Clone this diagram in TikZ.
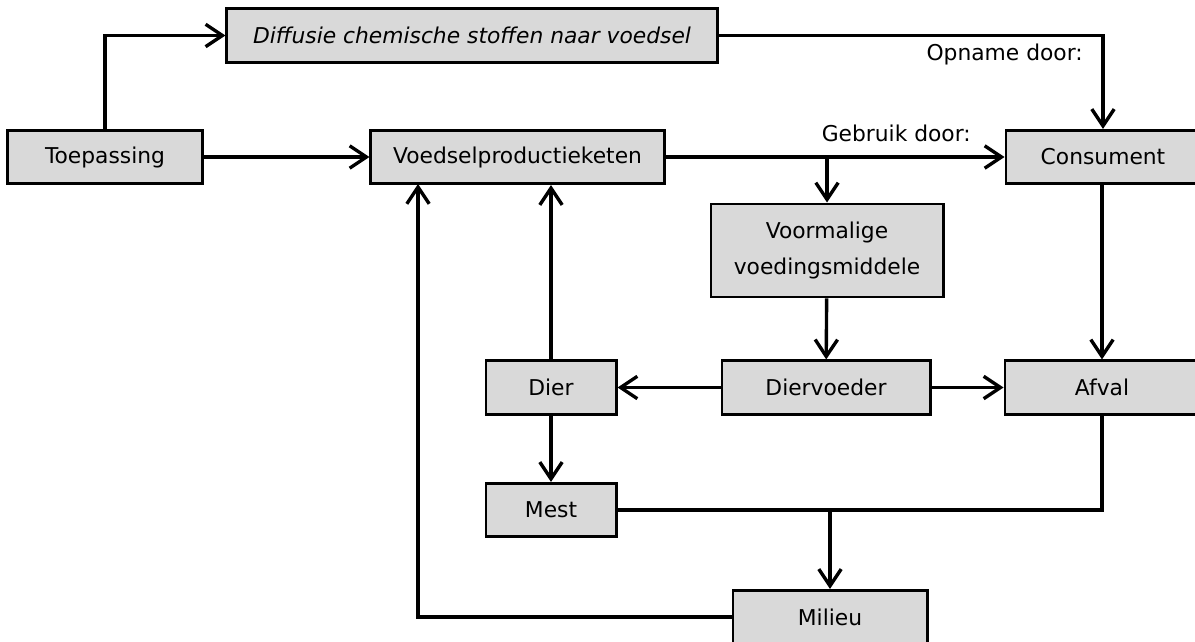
\documentclass[tikz,border=0pt]{standalone}
\usepackage{fontspec}
\setmainfont{DejaVu Sans}
\usetikzlibrary{arrows.meta, positioning, calc}

\definecolor{boxgray}{RGB}{217,217,217}

\begin{document}
\begin{tikzpicture}[
    x=0.025cm, y=-0.025cm,
    font=\fontsize{15.5pt}{18pt}\selectfont,
    box/.style={rectangle, draw, line width=2.1pt, fill=boxgray, minimum height=1.33cm, inner sep=2pt},
    arrow/.style={line width=2.4pt, -{Straight Barb[length=4.2mm, width=5.6mm, line width=2.4pt]}},
    line/.style={line width=2.4pt},
    lbl/.style={anchor=east, inner sep=0pt}
]
\clip (0,0) rectangle (1195,642);
\useasboundingbox (0,0) rectangle (1195,642);

% boxes
\node[box, minimum width=12.25cm, font=\fontsize{15.5pt}{18pt}\selectfont\itshape] (diff) at (472,35.5) {Diffusie chemische stoffen naar voedsel};
\node[box, minimum width=4.85cm] (toep) at (105,157) {Toepassing};
\node[box, minimum width=7.325cm] (voed) at (517.5,157) {Voedselproductieketen};
\node[box, minimum width=4.85cm] (cons) at (1103,157) {Consument};
\node[box, minimum width=5.8cm, minimum height=2.325cm, align=center, font=\fontsize{15.5pt}{26pt}\selectfont] (voor) at (827,250.5) {Voormalige\\voedingsmiddele};
\node[box, minimum width=3.25cm] (dier) at (551,387.5) {Dier};
\node[box, minimum width=5.2cm] (dvoe) at (826,387.5) {Diervoeder};
\node[box, minimum width=4.85cm] (afval) at (1102,387.5) {Afval};
\node[box, minimum width=3.25cm] (mest) at (551,510) {Mest};
\node[box, minimum width=4.85cm] (milieu) at (830,617) {Milieu};

% labels
\node[lbl] (opnlbl) at (1083,54) {Opname door:};
\node[lbl] (gebrlbl) at (971,133) {Gebruik door:};

% return point left of the chain
\coordinate (terug) at (418,184);

% connectors
\draw[arrow] (toep.north) |- (diff.west);
\draw[arrow] (toep) -- (voed);
\draw[arrow] (diff.east) -| (cons.north);
\draw[arrow] (voed) -- (cons);
\draw[arrow] (voor.north |- voed.east) -- (voor.north);
\draw[arrow] (voor) -- (dvoe);
\draw[arrow] (dvoe) -- (dier);
\draw[arrow] (dvoe) -- (afval);
\draw[arrow] (afval.north |- cons.south) -- (afval.north);
\draw[arrow] (dier.north) -- (dier.north |- voed.south);
\draw[arrow] (dier) -- (mest);
\draw[line] (mest.east) -| (afval.south);
\draw[arrow] (milieu.north |- mest.east) -- (milieu.north);
\draw[arrow] (milieu.west) -| (terug);

\end{tikzpicture}
\end{document}
